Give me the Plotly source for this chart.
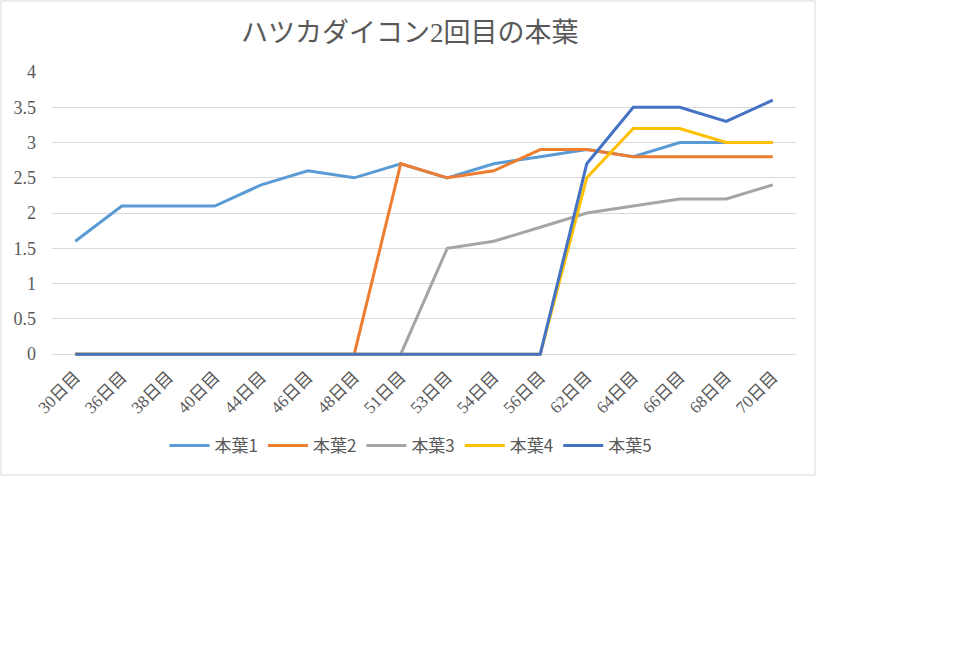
import plotly.graph_objects as go

categories = ["30日目", "36日目", "38日目", "40日目", "44日目", "46日目", "48日目", "51日目",
              "53日目", "54日目", "56日目", "62日目", "64日目", "66日目", "68日目", "70日目"]
leaf1 = [1.6, 2.1, 2.1, 2.1, 2.4, 2.6, 2.5, 2.7, 2.5, 2.7, 2.8, 2.9, 2.8, 3.0, 3.0, 3.0]
leaf2 = [0, 0, 0, 0, 0, 0, 0, 2.7, 2.5, 2.6, 2.9, 2.9, 2.8, 2.8, 2.8, 2.8]
leaf3 = [0, 0, 0, 0, 0, 0, 0, 0, 1.5, 1.6, 1.8, 2.0, 2.1, 2.2, 2.2, 2.4]
leaf4 = [0, 0, 0, 0, 0, 0, 0, 0, 0, 0, 0, 2.5, 3.2, 3.2, 3.0, 3.0]
leaf5 = [0, 0, 0, 0, 0, 0, 0, 0, 0, 0, 0, 2.7, 3.5, 3.5, 3.3, 3.6]
series_names = ["本葉1", "本葉2", "本葉3", "本葉4", "本葉5"]
colors = ["#5B9BD5", "#ED7D31", "#A5A5A5", "#FFC000", "#4472C4"]
title = "ハツカダイコン2回目の本葉"

W, H = 960, 648
L, R, T, B = 52, 164, 72, 291
pw, ph = W - L - R, H - T - B
ymin, ymax = -0.04, 4

def px(x):
    return (x - L) / pw

def py(y):
    return (H - B - y) / ph

fig = go.Figure()
for name, vals, c in zip(series_names, [leaf1, leaf2, leaf3, leaf4, leaf5], colors):
    fig.add_trace(go.Scatter(x=categories, y=vals, name=name, mode="lines",
                             line=dict(color=c, width=3)))

serif = "Liberation Serif, Noto Sans CJK JP, serif"
fig.update_layout(
    width=W, height=H,
    margin=dict(l=L, r=R, t=T, b=B),
    paper_bgcolor="white", plot_bgcolor="white",
    showlegend=True,
    legend=dict(orientation="h", x=px(411), y=py(446), xanchor="center", yanchor="middle",
                font=dict(family="Noto Sans CJK JP, sans-serif", size=17, color="#595959"),
                itemwidth=40, bgcolor="rgba(0,0,0,0)"),
    xaxis=dict(type="category", range=[-0.5, 15.5], showgrid=False, showline=False,
               ticks="", tickangle=-45, zeroline=False, ticklabelstandoff=6,
               tickfont=dict(family=serif, size=17, color="#595959")),
    yaxis=dict(range=[ymin, ymax], tickvals=[0, 0.5, 1, 1.5, 2, 2.5, 3, 3.5, 4],
               ticktext=["0", "0.5", "1", "1.5", "2", "2.5", "3", "3.5", "4"],
               showgrid=True, gridcolor="#D9D9D9", gridwidth=1,
               zeroline=False, showline=False,
               ticks="", ticklabelstandoff=15,
               tickfont=dict(family=serif, size=18, color="#595959")),
    shapes=[dict(type="rect", xref="paper", yref="paper",
                 x0=px(1), x1=px(815), y0=py(475), y1=py(1),
                 line=dict(color="#D9D9D9", width=1), fillcolor="rgba(0,0,0,0)", layer="below")],
    annotations=[dict(text=title, xref="paper", yref="paper", x=px(410), y=py(33),
                      xanchor="center", yanchor="middle", showarrow=False,
                      font=dict(family="Liberation Serif, Noto Sans CJK JP, serif", size=27, color="#595959"))],
)

fig.write_html("out.html")
